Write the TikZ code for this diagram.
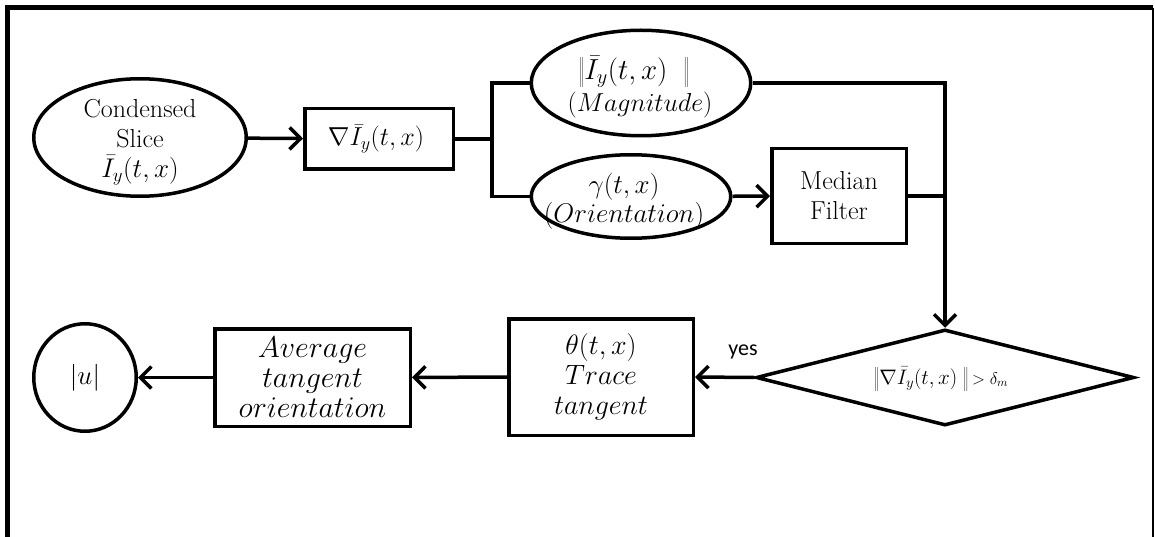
\RequirePackage{fix-cm}
\documentclass[tikz,border=0pt]{standalone}
\usepackage{fontspec}
\newfontfamily\labelfont{Carlito}
\usetikzlibrary{arrows.meta,shapes.geometric}

\begin{document}
\begin{tikzpicture}[x=1pt,y=-1pt,
  outline/.style={draw=black, line width=3.5pt, inner sep=0pt},
  oval/.style={outline, ellipse},
  box/.style={outline, rectangle, align=center, font=\fontsize{26}{30}\selectfont},
  decision/.style={outline, diamond},
  txt/.style={align=center, inner sep=0pt, font=\fontsize{26}{30}\selectfont},
  bigtxt/.style={align=center, inner sep=0pt, font=\fontsize{28}{30}\selectfont},
  wire/.style={line width=3.5pt},
  flow/.style={line width=3.5pt, -{Straight Barb[length=11pt,width=22pt,line width=3.5pt]}}]

\useasboundingbox (0,0) rectangle (1155,537);

% page frame (open at the bottom)
\draw[line width=5pt] (7.5,537) -- (7.5,8) -- (1153,8);
\draw[line width=2pt] (1153,8) -- (1153,537);

% upper row
\node[oval, minimum width=212.5pt, minimum height=117.5pt] (slice) at (140,137.5) {};
\node[txt] (slice-text) at (140,142) {Condensed\\Slice\\{\fontsize{27}{30}\selectfont$\bar{I}_y(t,x)$}};

\node[box, minimum width=148.5pt, minimum height=60.5pt] (grad) at (379,139) {$\nabla\bar{I}_y(t,x)$\hspace{6pt}};

\node[oval, minimum width=219.5pt, minimum height=105.5pt] (mag) at (641,83) {};
\node[bigtxt, font=\fontsize{26}{32}\selectfont] (mag-text) at (634,87)
  {{\fontsize{29}{32}\selectfont$\left\|\bar{I}_y(t,x)\;\;\right\|$}\\\hspace{12pt}$(Magnitude)$};

\node[oval, minimum width=199.5pt, minimum height=83.5pt] (orient) at (631,196.5) {};
\node[bigtxt, font=\fontsize{27}{29}\selectfont] (orient-text) at (624,201) {$\gamma(t,x)$\\$(Orientation)$};

\node[box, minimum width=134.5pt, minimum height=94.5pt] (median) at (839,196) {Median\\Filter};

% decision
\node[decision, minimum width=378pt, minimum height=96pt] (test) at (945,377.5) {};
\node[inner sep=0pt, font=\fontsize{21}{24}\selectfont] (test-text) at (941,379)
  {$\left\|\nabla\bar{I}_y(t,x)\;\right\|$\,{\fontsize{17}{20}\selectfont$>\delta_m$}};

% lower row
\node[box, minimum width=184.5pt, minimum height=116.5pt, font=\fontsize{28}{30}\selectfont] (trace) at (601,377) {$\theta(t,x)$\\$Trace$\\$tangent$};
\node[box, minimum width=195.5pt, minimum height=97.5pt, font=\fontsize{30}{30}\selectfont] (avg) at (312.5,377.5) {$Average$\\$tangent$\\$orientation$};
\node[oval, minimum width=102.5pt, minimum height=107.5pt] (speed) at (85,377.5) {};
\node[txt, font=\fontsize{27}{30}\selectfont] (speed-text) at (speed) {$|u|$};

\node[inner sep=0pt, font=\labelfont\fontsize{22}{26}\selectfont] (yes) at (743,352) {yes};

% connectors
\coordinate (split) at (492,139);
\draw[flow] (slice) -- (grad);
\draw[wire] (grad.east) -- (split);
\draw[wire] (mag.west) -| (split) |- (orient.west);
\draw[flow] (orient) -- (median);
\draw[flow] (mag.east) -| (test.north);
\draw[wire] (median.east) -- (test.north |- median.east);
\draw[flow] (test.west) -- (trace.east);
\draw[flow] (trace) -- (avg);
\draw[flow] (avg) -- (speed);

\end{tikzpicture}
\end{document}
